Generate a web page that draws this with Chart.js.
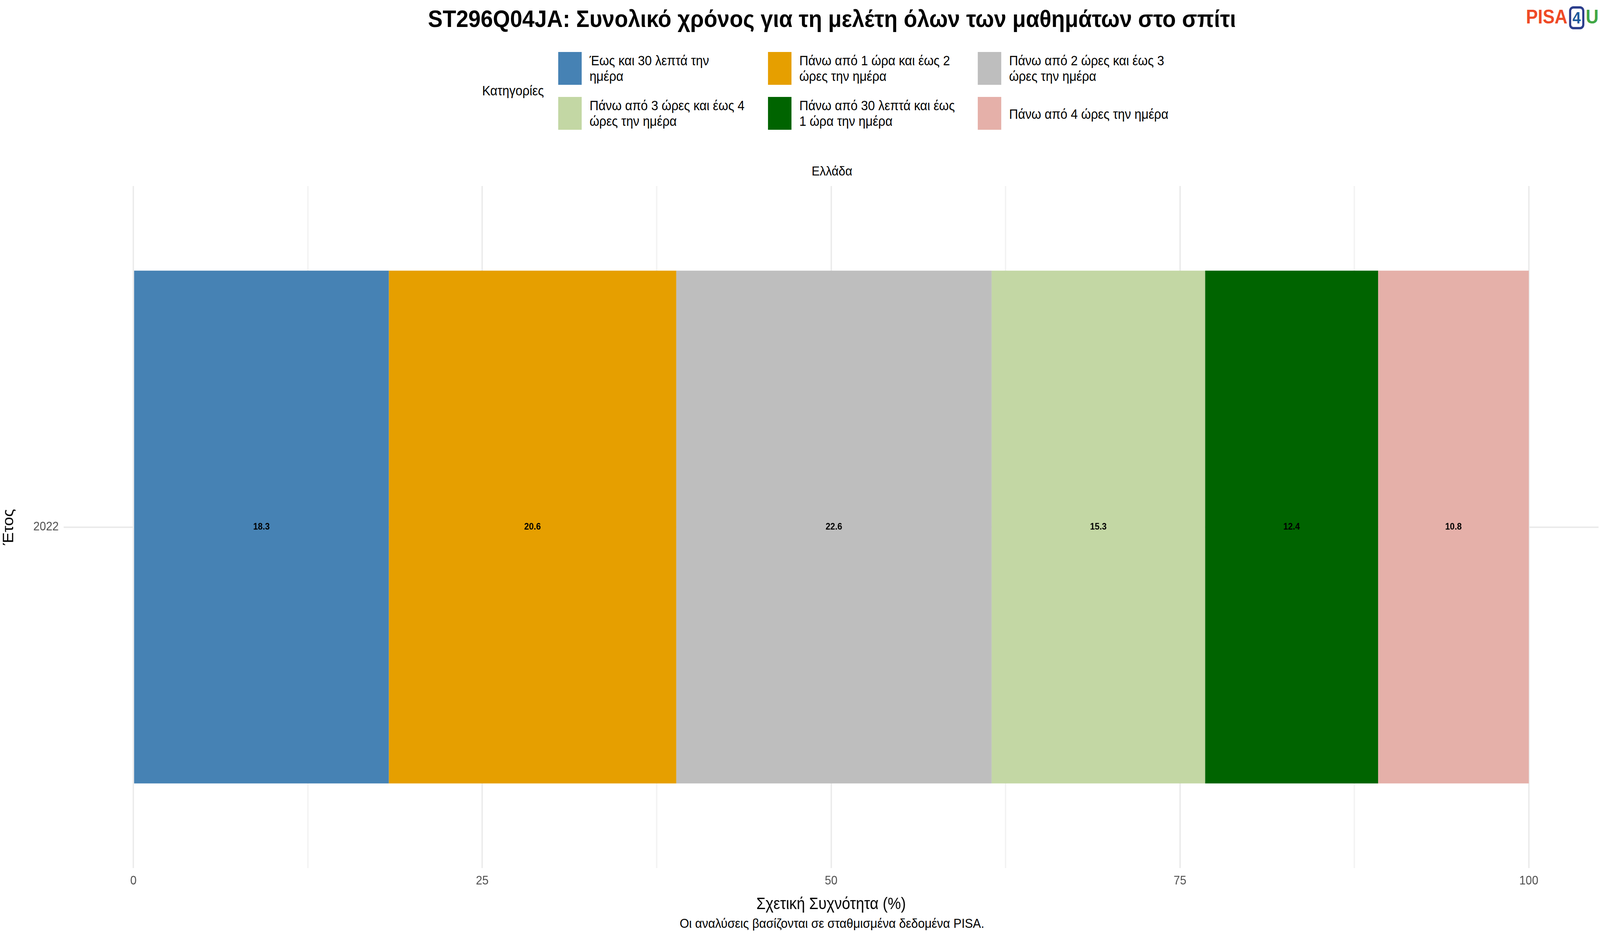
<!DOCTYPE html>
<html><head><meta charset="utf-8">
<script src="https://cdn.jsdelivr.net/npm/chart.js@4"></script>
<style>
html,body{margin:0;padding:0;overflow:hidden;background:#fff}
#wrap{width:4500px;height:2400px;background:#fff;font-family:"Liberation Sans",Arial,sans-serif;position:absolute;left:0;top:0;overflow:hidden;transform-origin:0 0}
.a{position:absolute;white-space:nowrap}
#title{left:2340px;top:12px;transform:translateX(-50%);font-size:62px;font-weight:bold;color:#000}
#logo{right:4px;top:14px;font-size:50px;font-weight:bold}
.sw{position:absolute;width:66px;height:84px}
.lt{position:absolute;font-size:35px;line-height:40px;color:#000}
#strip{left:2340px;top:418px;transform:translateX(-50%);font-size:34px}
#cap{left:2340px;top:2343px;transform:translateX(-50%);font-size:34px}
#cv{position:absolute;left:0;top:440px}
</style></head><body>
<div id="wrap">
<div class="a" id="title">ST296Q04JA: Συνολικό χρόνος για τη μελέτη όλων των μαθημάτων στο σπίτι</div>
<div class="a" id="logo"><span style="color:#ef4a26">PISA</span><span style="color:#1c5a9c;border:6px solid #2c3e8c;border-radius:12px;padding:0 4px;font-size:42px;margin:0 4px">4</span><span style="color:#41a744">U</span></div>
<div id="legend"></div>
<div class="a" id="strip">Ελλάδα</div>
<div class="a" id="cap">Οι αναλύσεις βασίζονται σε σταθμισμένα δεδομένα PISA.</div>
<canvas id="cv" width="4500" height="1900" style="width:4500px;height:1900px"></canvas>
</div>
<script>
const years = ["2022"];
const categories = ["Έως και 30 λεπτά την ημέρα","Πάνω από 1 ώρα και έως 2 ώρες την ημέρα","Πάνω από 2 ώρες και έως 3 ώρες την ημέρα","Πάνω από 3 ώρες και έως 4 ώρες την ημέρα","Πάνω από 30 λεπτά και έως 1 ώρα την ημέρα","Πάνω από 4 ώρες την ημέρα"];
const legendLines = [["Έως και 30 λεπτά την","ημέρα"],["Πάνω από 1 ώρα και έως 2","ώρες την ημέρα"],["Πάνω από 2 ώρες και έως 3","ώρες την ημέρα"],["Πάνω από 3 ώρες και έως 4","ώρες την ημέρα"],["Πάνω από 30 λεπτά και έως","1 ώρα την ημέρα"],["Πάνω από 4 ώρες την ημέρα"]];
const colors = ["#4682b4","#e69f00","#bebebe","#c3d7a4","#006400","#e5b0a9"];
const values = [18.3,20.6,22.6,15.3,12.4,10.8];
const xTicks = [0,25,50,75,100];

function fit(){const sx=window.innerWidth/4500, sy=window.innerHeight/2400;document.getElementById('wrap').style.transform=`scale(${sx},${sy})`;}
fit();window.addEventListener('resize',fit);

const lg=document.getElementById('legend');
let h='<div class="a" style="left:1356px;top:212px;font-size:35px">Κατηγορίες</div>';
const cx=[1570,2160,2750], ry=[133,248];
categories.forEach((c,i)=>{
  const x=cx[i%3], y=ry[Math.floor(i/3)];
  h+=`<div class="sw" style="left:${x}px;top:${y}px;background:${colors[i]}"></div>`;
  const L=legendLines[i];
  const ty = L.length===1 ? y+24 : y+2;
  h+=`<div class="lt" style="left:${x+88}px;top:${ty}px">${L.join('<br>')}</div>`;
});
lg.innerHTML=h;

const labelPlugin={id:'lbl',afterDatasetsDraw(ch){
  const c=ch.ctx;c.save();c.font='bold 24px "Liberation Sans", Arial';c.fillStyle='#000';c.textAlign='center';c.textBaseline='middle';
  ch.data.datasets.forEach((d,i)=>{ch.getDatasetMeta(i).data.forEach((b,j)=>{
    c.fillText(d.data[j].toFixed(1),(b.x+b.base)/2,b.y);});});
  c.restore();}};

new Chart(document.getElementById('cv'),{
  type:'bar',
  data:{labels:years,datasets:categories.map((c,i)=>({label:c,data:[values[i]],backgroundColor:colors[i],borderWidth:0,barPercentage:0.752,categoryPercentage:1}))},
  options:{indexAxis:'y',responsive:false,animation:false,devicePixelRatio:1,
    layout:{padding:{top:36,right:4,left:0,bottom:0}},
    plugins:{legend:{display:false},tooltip:{enabled:false}},
    scales:{
      x:{stacked:true,min:-5,max:105,
        afterBuildTicks(s){s.ticks=[0,12.5,25,37.5,50,62.5,75,87.5,100].map(v=>({value:v}));},
        afterFit(s){s.height=119;},
        ticks:{autoSkip:false,maxRotation:0,color:'#4d4d4d',font:{size:32,family:'Liberation Sans'},padding:14,
          callback:v=>xTicks.includes(v)?String(v):''},
        grid:{color:c=>xTicks.includes(c.tick&&c.tick.value)?'#ebebeb':'#f3f3f3',lineWidth:4,drawTicks:false},
        border:{display:false},
        title:{display:true,text:'Σχετική Συχνότητα (%)',font:{size:42,family:'Liberation Sans'},color:'#000',padding:{top:0,bottom:0}}},
      y:{stacked:true,
        afterFit(s){s.width=179;},
        ticks:{color:'#4d4d4d',font:{size:32,family:'Liberation Sans'},padding:14},
        grid:{offset:false,color:'#ebebeb',lineWidth:4,drawTicks:false},border:{display:false},
        title:{display:true,text:'Έτος',font:{size:42,family:'Liberation Sans'},color:'#000',padding:{top:0,bottom:0}}}
    }},
  plugins:[labelPlugin]
});
</script></body></html>
